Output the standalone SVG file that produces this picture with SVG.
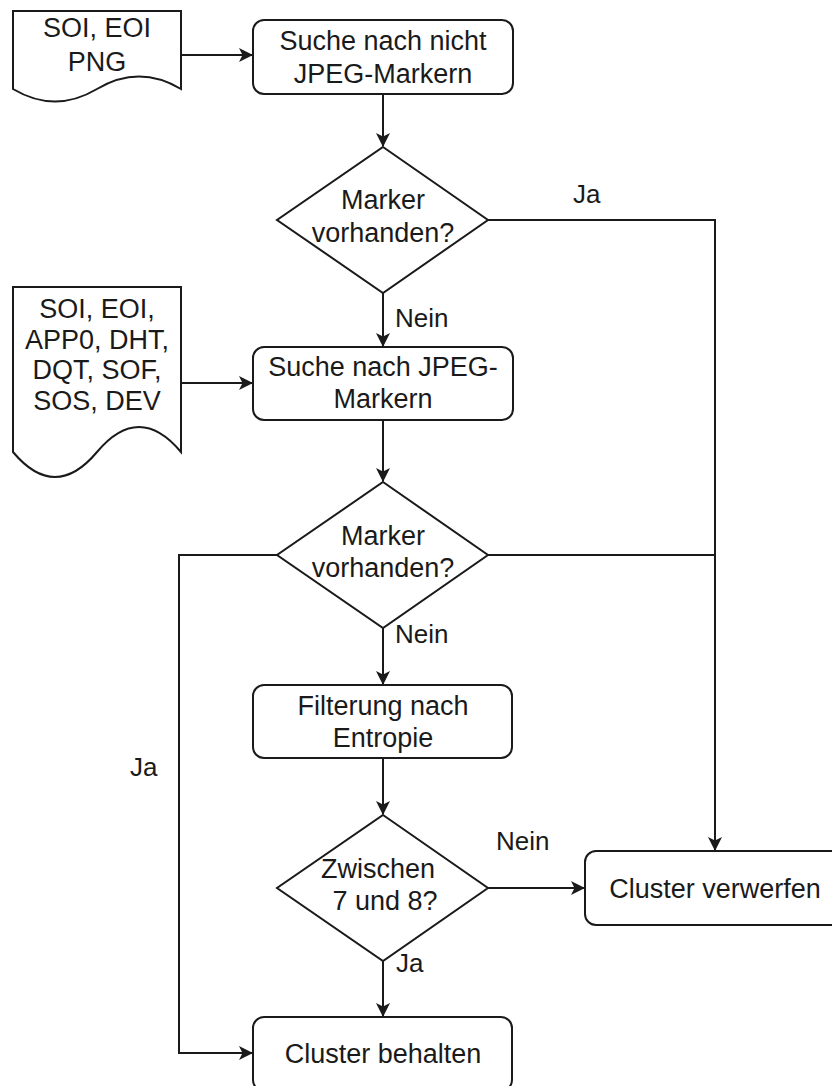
<svg xmlns="http://www.w3.org/2000/svg" width="832" height="1086" viewBox="0 0 832 1086">
  <style>
    .shape { fill: #ffffff; stroke: #1a1a1a; stroke-width: 2; }
    .edge { fill: none; stroke: #1a1a1a; stroke-width: 2; }
    .arrow { marker-end: url(#head); }
    text { font-family: "Liberation Sans", Arial, Helvetica, sans-serif; fill: #1a1a1a; }
    .t { font-size: 27px; text-anchor: middle; }
    .lbl { font-size: 26px; }
  </style>
  <defs>
    <marker id="head" viewBox="0 0 14 14" refX="13" refY="7" markerWidth="14" markerHeight="14" markerUnits="userSpaceOnUse" orient="auto">
      <path d="M0,0 L14,7 L0,14 L3.5,7 Z" fill="#1a1a1a"/>
    </marker>
  </defs>

  <rect width="832" height="1086" fill="#ffffff"/>

  <!-- connectors -->
  <g id="connectors">
    <path class="edge arrow" d="M181,55 H252"/>
    <path class="edge arrow" d="M383,94 V146"/>
    <path class="edge arrow" d="M488,220 H715 V850"/>
    <path class="edge arrow" d="M383,293 V346"/>
    <path class="edge arrow" d="M181,383 H252"/>
    <path class="edge arrow" d="M383,420 V481"/>
    <path class="edge" d="M488,555 H715"/>
    <path class="edge arrow" d="M277,555 H179 V1053 H252"/>
    <path class="edge arrow" d="M383,628 V684"/>
    <path class="edge arrow" d="M383,758 V814"/>
    <path class="edge arrow" d="M488,888 H584"/>
    <path class="edge arrow" d="M383,961 V1016"/>

    <text class="lbl" x="573" y="203">Ja</text>
    <text class="lbl" x="395" y="327">Nein</text>
    <text class="lbl" x="395" y="643">Nein</text>
    <text class="lbl" x="130" y="776">Ja</text>
    <text class="lbl" x="496" y="850">Nein</text>
    <text class="lbl" x="396" y="972">Ja</text>
  </g>

  <!-- input documents (wavy bottom edge) -->
  <g id="doc-png">
    <path class="shape" d="M13,11 H181 V89 Q139,64 97,89 Q55,114 13,89 Z"/>
    <text class="t" x="97" y="37">SOI, EOI</text>
    <text class="t" x="97" y="71">PNG</text>
  </g>
  <g id="doc-jpeg">
    <path class="shape" d="M13,287 H181 V452 Q139,402 97,452 Q55,502 13,452 Z"/>
    <text class="t" x="97" y="318">SOI, EOI,</text>
    <text class="t" x="97" y="348.5">APP0, DHT,</text>
    <text class="t" x="97" y="379">DQT, SOF,</text>
    <text class="t" x="97" y="410">SOS, DEV</text>
  </g>

  <!-- process steps -->
  <g id="search-non-jpeg">
    <rect class="shape" x="253" y="20" width="260" height="74" rx="11"/>
    <text class="t" x="383" y="50">Suche nach nicht</text>
    <text class="t" x="383" y="83">JPEG-Markern</text>
  </g>
  <g id="decision-1">
    <path class="shape" d="M383,147 L488,220 L383,293 L277,220 Z"/>
    <text class="t" x="383" y="209">Marker</text>
    <text class="t" x="383" y="242">vorhanden?</text>
  </g>
  <g id="search-jpeg">
    <rect class="shape" x="253" y="347" width="260" height="73" rx="11"/>
    <text class="t" x="383" y="376">Suche nach JPEG-</text>
    <text class="t" x="383" y="408">Markern</text>
  </g>
  <g id="decision-2">
    <path class="shape" d="M383,482 L488,555 L383,628 L277,555 Z"/>
    <text class="t" x="383" y="545">Marker</text>
    <text class="t" x="383" y="577">vorhanden?</text>
  </g>
  <g id="entropy-filter">
    <rect class="shape" x="253" y="685" width="259" height="73" rx="11"/>
    <text class="t" x="383" y="715">Filterung nach</text>
    <text class="t" x="383" y="747">Entropie</text>
  </g>
  <g id="decision-3">
    <path class="shape" d="M383,815 L488,888 L383,961 L277,888 Z"/>
    <text class="t" x="378" y="878">Zwischen</text>
    <text class="t" x="385" y="910">7 und 8?</text>
  </g>
  <g id="discard">
    <rect class="shape" x="585" y="851" width="260" height="74" rx="11"/>
    <text class="t" x="715" y="898">Cluster verwerfen</text>
  </g>
  <g id="keep">
    <rect class="shape" x="253" y="1017" width="259" height="74" rx="11"/>
    <text class="t" x="383" y="1063">Cluster behalten</text>
  </g>
</svg>
